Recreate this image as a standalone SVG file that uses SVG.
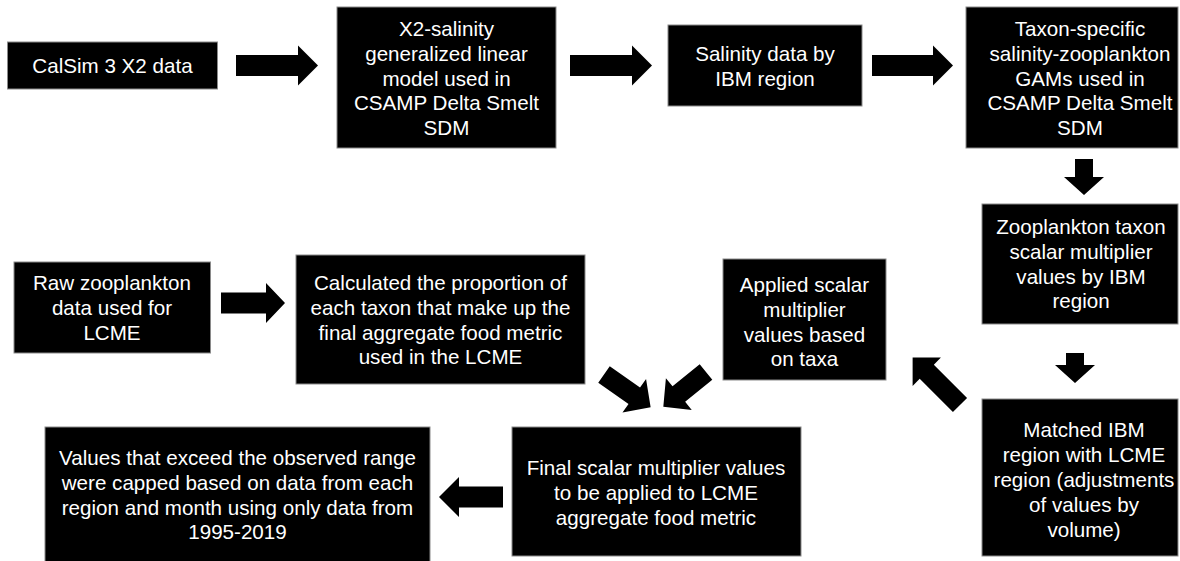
<svg xmlns="http://www.w3.org/2000/svg" width="1180" height="561" viewBox="0 0 1180 561">
<style>
.box{fill:#000;stroke:#8a8a8a;stroke-width:1}
.t{font-family:"Liberation Sans",Arial,sans-serif;font-size:20.6px;fill:#fff;text-anchor:middle}
.arr{fill:#000}
</style>
<rect x="0" y="0" width="1180" height="561" fill="#fff"/>
<g id="connectors">
<polygon class="arr" points="236,55 298,55 298,45.5 318,65.5 298,85.5 298,76 236,76"/>
<polygon class="arr" points="570,55 632,55 632,45.5 652,65.5 632,85.5 632,76 570,76"/>
<polygon class="arr" points="872,55 933,55 933,45.5 953,65.5 933,85.5 933,76 872,76"/>
<polygon class="arr" points="1075,159 1093,159 1093,177 1104,177 1084,195 1064,177 1075,177"/>
<polygon class="arr" points="1066,353 1084,353 1084,365 1095,365 1075,383 1055,365 1066,365"/>
<polygon class="arr" points="221,292.5 266,292.5 266,283 285,303 266,323 266,313.5 221,313.5"/>
<polygon class="arr" points="503,486.5 459,486.5 459,477 439,497 459,517 459,507.5 503,507.5"/>
<polygon class="arr" transform="translate(604,374.5) rotate(35.1)" points="0,-10 37,-10 37,-20.5 57,0 37,20.5 37,10 0,10"/>
<polygon class="arr" transform="translate(706,372) rotate(140.9)" points="0,-10 35,-10 35,-20.5 55,0 35,20.5 35,10 0,10"/>
<polygon class="arr" transform="translate(960,405) rotate(225)" points="0,-10 47,-10 47,-20 67,0 47,20 47,10 0,10"/>
</g>
<g id="calsim">
<rect class="box" x="7.5" y="42" width="210" height="47"/>
<text class="t"><tspan x="112.5" y="72.8">CalSim 3 X2 data</tspan></text>
</g>
<g id="x2model">
<rect class="box" x="337" y="7" width="219" height="141"/>
<text class="t"><tspan x="446.5" y="36.3">X2-salinity</tspan><tspan x="446.5" y="61">generalized linear</tspan><tspan x="446.5" y="85.7">model used in</tspan><tspan x="446.5" y="110.4">CSAMP Delta Smelt</tspan><tspan x="446.5" y="135.1">SDM</tspan></text>
</g>
<g id="salinity">
<rect class="box" x="668" y="25" width="194" height="81"/>
<text class="t"><tspan x="765" y="61.3">Salinity data by</tspan><tspan x="765" y="86">IBM region</tspan></text>
</g>
<g id="taxon">
<rect class="box" x="966" y="7" width="212" height="141"/>
<text class="t"><tspan x="1080" y="36.3">Taxon-specific</tspan><tspan x="1080" y="61">salinity-zooplankton</tspan><tspan x="1080" y="85.7">GAMs used in</tspan><tspan x="1080" y="110.4">CSAMP Delta Smelt</tspan><tspan x="1080" y="135.1">SDM</tspan></text>
</g>
<g id="zooscalar">
<rect class="box" x="982" y="204" width="196" height="120"/>
<text class="t"><tspan x="1081" y="234.3">Zooplankton taxon</tspan><tspan x="1081" y="259">scalar multiplier</tspan><tspan x="1081" y="283.7">values by IBM</tspan><tspan x="1081" y="308.4">region</tspan></text>
</g>
<g id="matched">
<rect class="box" x="982" y="399" width="196" height="157"/>
<text class="t"><tspan x="1084" y="437.3">Matched IBM</tspan><tspan x="1084" y="462.3">region with LCME</tspan><tspan x="1084" y="487.3">region (adjustments</tspan><tspan x="1084" y="512.3">of values by</tspan><tspan x="1084" y="537.3">volume)</tspan></text>
</g>
<g id="applied">
<rect class="box" x="723" y="259" width="163" height="121"/>
<text class="t"><tspan x="804.5" y="292.3">Applied scalar</tspan><tspan x="804.5" y="317">multiplier</tspan><tspan x="804.5" y="341.7">values based</tspan><tspan x="804.5" y="366.4">on taxa</tspan></text>
</g>
<g id="raw">
<rect class="box" x="14" y="262" width="196.5" height="91"/>
<text class="t"><tspan x="112" y="290.3">Raw zooplankton</tspan><tspan x="112" y="315">data used for</tspan><tspan x="112" y="339.7">LCME</tspan></text>
</g>
<g id="calculated">
<rect class="box" x="296" y="255" width="289" height="129"/>
<text class="t"><tspan x="440.5" y="290.3">Calculated the proportion of</tspan><tspan x="440.5" y="315">each taxon that make up the</tspan><tspan x="440.5" y="339.7">final aggregate food metric</tspan><tspan x="440.5" y="364.4">used in the LCME</tspan></text>
</g>
<g id="final">
<rect class="box" x="512" y="427" width="289" height="129"/>
<text class="t"><tspan x="656" y="475.3">Final scalar multiplier values</tspan><tspan x="656" y="500">to be applied to LCME</tspan><tspan x="656" y="524.7">aggregate food metric</tspan></text>
</g>
<g id="values">
<rect class="box" x="45" y="427" width="385" height="140"/>
<text class="t"><tspan x="237.5" y="465.3">Values that exceed the observed range</tspan><tspan x="237.5" y="490">were capped based on data from each</tspan><tspan x="237.5" y="514.7">region and month using only data from</tspan><tspan x="237.5" y="539.4">1995-2019</tspan></text>
</g>
</svg>
